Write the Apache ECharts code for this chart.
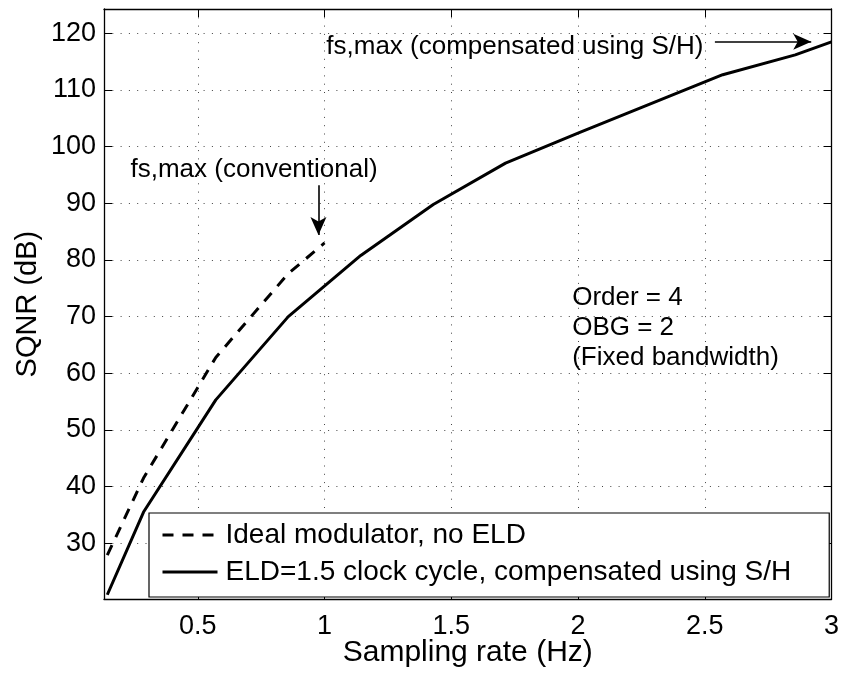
<!DOCTYPE html>
<html>
<head>
<meta charset="utf-8">
<script src="https://cdn.jsdelivr.net/npm/echarts@6.0.0/dist/echarts.min.js"></script>
<style>
html,body{margin:0;padding:0;background:#fff;}
#chart{width:843px;height:675px;}
</style>
</head>
<body>
<div id="chart"></div>
<script>
// ---- data ----
const idealX = [0.143, 0.286, 0.571, 0.857, 1.0];
const idealY = [27.9, 41.5, 62.8, 77.6, 83.0];
const eldX = [0.143, 0.286, 0.571, 0.857, 1.143, 1.429, 1.714, 2.0, 2.571, 2.857, 3.0];
const eldY = [20.9, 35.5, 55.3, 70.0, 80.8, 89.8, 97.1, 102.4, 112.7, 116.2, 118.5];
const xTicks = [0.5, 1, 1.5, 2, 2.5, 3];
const yTicks = [30, 40, 50, 60, 70, 80, 90, 100, 110, 120];
const seriesNames = ['Ideal modulator, no ELD', 'ELD=1.5 clock cycle, compensated using S/H'];
const annoConv = 'fs,max (conventional)';
const annoComp = 'fs,max (compensated using S/H)';
const annoInfo = 'Order = 4\nOBG = 2\n(Fixed bandwidth)';
const annoConvPos = [0.722, 95.9];
const annoCompPos = [1.007, 117.6];
const annoInfoPos = [1.977, 68.0];
const arrowConv = [[0.976, 93.2], [0.976, 84.4]];
const arrowComp = [[2.54, 118.5], [2.92, 118.5]];

const FONT = '"Liberation Sans", Arial, Helvetica, sans-serif';
const xMin = 0.13, xMax = 3.0, yMin = 20.1, yMax = 124.3;

function zip(a, b) { return a.map((v, i) => [v, b[i]]); }
function fmtTick(list) {
  return function (v) {
    for (const t of list) { if (Math.abs(t - v) < 1e-6) return String(t); }
    return '';
  };
}

const chart = echarts.init(document.getElementById('chart'), null, {renderer: 'canvas'});

const axisLineStyle = {color: '#000', width: 1.3};
const gridStyle = {color: '#444', width: 1, type: [1, 7.3]};

const option = {
  animation: false,
  backgroundColor: '#fff',
  grid: {left: 104, right: 11.5, top: 9, bottom: 75.7, containLabel: false, outerBoundsMode: 'none'},
  xAxis: [{
    type: 'value', min: xMin, max: xMax, splitNumber: 6,
    position: 'bottom',
    name: 'Sampling rate (Hz)', nameLocation: 'middle', nameGap: 38, nameMoveOverlap: false,
    nameTextStyle: {fontSize: 30, color: '#000', fontFamily: FONT},
    axisLine: {show: true, onZero: false, lineStyle: axisLineStyle},
    axisTick: {show: true, inside: true, length: 8, lineStyle: {color: '#000', width: 1}},
    axisLabel: {show: true, fontSize: 27, color: '#000', fontFamily: FONT, margin: 14,
                formatter: fmtTick(xTicks), showMinLabel: false},
    splitLine: {show: true, lineStyle: gridStyle}
  }, {
    type: 'value', min: xMin, max: xMax, splitNumber: 6,
    position: 'top',
    axisLine: {show: true, onZero: false, lineStyle: axisLineStyle},
    axisTick: {show: true, inside: true, length: 8, lineStyle: {color: '#000', width: 1}},
    axisLabel: {show: false},
    splitLine: {show: false}
  }],
  yAxis: [{
    type: 'value', min: yMin, max: yMax, splitNumber: 10,
    position: 'left',
    name: 'SQNR (dB)', nameLocation: 'middle', nameGap: 62, nameMoveOverlap: false,
    nameTextStyle: {fontSize: 29, color: '#000', fontFamily: FONT},
    axisLine: {show: true, onZero: false, lineStyle: axisLineStyle},
    axisTick: {show: true, inside: true, length: 8, lineStyle: {color: '#000', width: 1}},
    axisLabel: {show: true, fontSize: 27, color: '#000', fontFamily: FONT, margin: 8,
                formatter: fmtTick(yTicks), showMinLabel: false, showMaxLabel: false},
    splitLine: {show: true, lineStyle: gridStyle}
  }, {
    type: 'value', min: yMin, max: yMax, splitNumber: 10,
    position: 'right',
    axisLine: {show: true, onZero: false, lineStyle: axisLineStyle},
    axisTick: {show: true, inside: true, length: 8, lineStyle: {color: '#000', width: 1}},
    axisLabel: {show: false},
    splitLine: {show: false}
  }],
  legend: {
    data: seriesNames,
    orient: 'vertical',
    left: 149, top: 513,
    itemWidth: 55, itemHeight: 14, itemGap: 9,
    padding: [8, 38, 11, 12],
    borderColor: '#000', borderWidth: 1.2, borderRadius: 0,
    backgroundColor: '#fff',
    selectedMode: false,
    itemStyle: {color: 'rgba(0,0,0,0)', borderColor: 'rgba(0,0,0,0)', borderWidth: 0, opacity: 0},
    lineStyle: {width: 3, color: '#000'},
    textStyle: {fontSize: 28, color: '#000', fontFamily: FONT, lineHeight: 28, padding: [0, 0, 0, 3]}
  },
  series: [{
    name: seriesNames[0], type: 'line', data: zip(idealX, idealY),
    symbol: 'none', showSymbol: false,
    lineStyle: {color: '#000', width: 3, type: [11, 9], cap: 'butt'},
    itemStyle: {color: '#000'},
    z: 3
  }, {
    name: seriesNames[1], type: 'line', data: zip(eldX, eldY),
    symbol: 'none', showSymbol: false,
    lineStyle: {color: '#000', width: 3, type: 'solid'},
    itemStyle: {color: '#000'},
    z: 3,
    markLine: {
      silent: true, animation: false,
      symbol: ['none', 'arrow'], symbolSize: [12, 18],
      label: {show: false},
      lineStyle: {color: '#000', width: 1.6, type: 'solid'},
      data: [
        [{coord: arrowConv[0]}, {coord: arrowConv[1]}],
        [{coord: arrowComp[0]}, {coord: arrowComp[1]}]
      ]
    }
  }]
};
chart.setOption(option);

// annotation texts, placed from data coordinates
function px(p) { return chart.convertToPixel({xAxisIndex: 0, yAxisIndex: 0}, p); }
const tStyle = {fill: '#000', fontSize: 26, fontFamily: FONT};
const pConv = px(annoConvPos), pComp = px(annoCompPos), pInfo = px(annoInfoPos);
chart.setOption({
  graphic: [
    {type: 'text', x: pConv[0], y: pConv[1], z: 10, silent: true,
     style: Object.assign({text: annoConv, align: 'center', verticalAlign: 'middle'}, tStyle)},
    {type: 'text', x: pComp[0], y: pComp[1], z: 10, silent: true,
     style: Object.assign({text: annoComp, align: 'left', verticalAlign: 'middle'}, tStyle)},
    {type: 'text', x: pInfo[0], y: pInfo[1], z: 10, silent: true,
     style: Object.assign({text: annoInfo, align: 'left', verticalAlign: 'middle', lineHeight: 30}, tStyle)}
  ]
});
</script>
</body>
</html>
